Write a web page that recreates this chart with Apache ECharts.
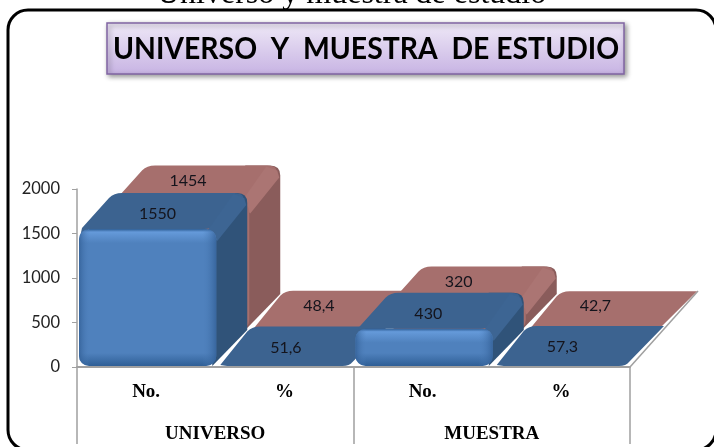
<!DOCTYPE html>
<html>
<head>
<meta charset="utf-8">
<style>
html, body { margin: 0; padding: 0; background: #fff; overflow: hidden; }
#main { width: 714px; height: 447px; }
</style>
<script src="https://cdn.jsdelivr.net/npm/echarts@6/dist/echarts.min.js"></script>
</head>
<body>
<div id="main"></div>
<script>
const categories = ['No.', '%', 'No.', '%'];
const groups = ['UNIVERSO', 'MUESTRA'];
const blueValues = [1550, 51.6, 430, 57.3];
const redValues = [1454, 48.4, 320, 42.7];
const blueLabels = ['1550', '51,6', '430', '57,3'];
const redLabels = ['1454', '48,4', '320', '42,7'];

const chart = echarts.init(document.getElementById('main'));

// depth of one 3D row, in pixels
const rowX = 33;
const depthY = 36;

function slab(params, api, row, palette, labels) {
    const idx = api.value(0);
    const val = api.value(1);
    const base = api.coord([idx, 0]);
    const top = api.coord([idx, val]);
    const w = api.size([1, 0])[0] - 1;
    const offX = row * rowX;
    const offY = -row * depthY;
    const x0 = base[0] - w / 2 + 1.5 + offX;
    const x1 = x0 + w;
    const y0 = base[1] + offY - 1;
    const y1 = top[1] + offY;
    const h = y0 - y1;
    const tall = h > 10;
    const leftX = 35;
    const rightX = tall ? 31 : 33;
    const r = 10;
    const backY = y1 - depthY;
    const frontY = tall ? y1 : y0;
    const children = [];
    if (tall) {
        // right side
        children.push({
            type: 'path',
            shape: {
                pathData: 'M' + (x1 - 4) + ' ' + y0 +
                    'L' + (x1 + rightX) + ' ' + (y0 - depthY) +
                    'L' + (x1 + rightX) + ' ' + (backY + r) +
                    'Q' + (x1 + rightX) + ' ' + backY + ' ' + (x1 + rightX - r) + ' ' + backY +
                    'L' + (x1 - 4) + ' ' + backY +
                    'L' + (x1 - 4) + ' ' + (y1 + 4) + 'Z'
            },
            style: { fill: palette.side }
        });
    }
    // top face
    children.push({
        type: 'path',
        shape: {
            pathData: (tall ? 'M' + (x0 + 1) + ' ' + (frontY + 8) + 'L' : 'M') + (x0 + 3) + ' ' + (frontY - 1) +
                'L' + (x0 + leftX - 5) + ' ' + (backY + 5) +
                'Q' + (x0 + leftX) + ' ' + backY + ' ' + (x0 + leftX + 8) + ' ' + backY +
                (tall
                    ? 'L' + (x1 + rightX - r - 3) + ' ' + backY +
                      'Q' + (x1 + rightX - 3) + ' ' + backY + ' ' + (x1 + rightX - 4) + ' ' + (backY + 6)
                    : 'L' + (x1 + rightX) + ' ' + backY) +
                'L' + (x1 - 2) + ' ' + (frontY - 4) +
                'Q' + (x1 - 5) + ' ' + frontY + ' ' + (x1 - 12) + ' ' + frontY +
                'L' + (x0 + 10) + ' ' + frontY + 'Z'
        },
        style: { fill: palette.top }
    });
    if (tall) {
        // bevel running back from the front top corner
        children.push({
            type: 'polygon',
            shape: { points: [
                [x1 - 9, y1 + 2], [x1 + rightX - 14, backY + 1],
                [x1 + rightX - 3, backY + 5], [x1 + rightX - 1, backY + 12], [x1 + 1, y1 + 12]
            ] },
            style: { fill: palette.rim }
        });
        // front face
        children.push({
            type: 'rect',
            shape: { x: x0, y: y1, width: w, height: h, r: r },
            style: {
                fill: new echarts.graphic.LinearGradient(0, y1, 0, y0, [
                    { offset: 0, color: palette.frontDark },
                    { offset: 3 / h, color: palette.frontLight },
                    { offset: 14 / h, color: palette.front },
                    { offset: Math.max(14 / h, 1 - 13 / h), color: palette.front },
                    { offset: 1, color: palette.frontDark }
                ], true)
            }
        });
        children.push({
            type: 'rect',
            shape: { x: x0, y: y1, width: w, height: h, r: r },
            style: {
                fill: new echarts.graphic.LinearGradient(x0, 0, x1, 0, [
                    { offset: 0, color: palette.edge },
                    { offset: 11 / w, color: palette.noEdge },
                    { offset: 1 - 14 / w, color: palette.noEdge },
                    { offset: 1, color: palette.edge }
                ], true)
            }
        });
    }
    // value sits on the top face
    children.push({
        type: 'text',
        style: {
            text: labels[idx],
            x: (x0 + x1) / 2 + (tall ? h / 138 * 8 + (row ? 0 : 2) : 0),
            y: y1 - (row ? 21 : 15),
            fill: '#14141c',
            font: '16px "Lato", sans-serif',
            align: 'center',
            verticalAlign: 'middle'
        }
    });
    return { type: 'group', children: children };
}

const bluePalette = {
    top: '#3c6390', side: '#305379', rim: '#3d6593',
    front: '#4f81bd', frontLight: '#659ada', frontDark: '#2f5f96',
    edge: 'rgba(50,95,150,0.8)', noEdge: 'rgba(79,129,189,0)'
};
const redPalette = {
    top: '#a66f6d', side: '#8a5c5b', rim: '#ab7573',
    front: '#a66f6d', frontLight: '#a66f6d', frontDark: '#a66f6d',
    edge: 'rgba(166,111,109,0)', noEdge: 'rgba(166,111,109,0)'
};

function seriesData(values) {
    return values.map((v, i) => [i, v]);
}

// edge of the chart floor going back from the end of the axis
function floorEdge(params, api) {
    const p = api.coord([api.value(0), 0]);
    const x = p[0] + api.size([1, 0])[0] / 2;
    return {
        type: 'line',
        shape: { x1: x, y1: p[1], x2: x + 2 * rowX + 2, y2: p[1] - 2 * depthY - 4 },
        style: { stroke: '#a0a0a0', lineWidth: 1.5 }
    };
}

const option = {
    animation: false,
    backgroundColor: '#ffffff',
    textStyle: { fontFamily: 'Lato' },
    grid: { left: 77, top: 189, width: 553, height: 178 },
    xAxis: [
        {
            type: 'category',
            data: categories,
            position: 'bottom',
            axisLine: { lineStyle: { color: '#a0a0a0', width: 2 } },
            axisTick: { show: false },
            axisLabel: {
                margin: 16,
                color: '#000',
                fontFamily: 'Liberation Serif',
                fontWeight: 'bold',
                fontSize: 19
            }
        },
        {
            type: 'category',
            data: groups,
            position: 'bottom',
            axisLine: { show: false },
            axisTick: { show: true, length: 77, lineStyle: { color: '#a0a0a0', width: 1.5 } },
            axisLabel: {
                margin: 58,
                color: '#000',
                fontFamily: 'Liberation Serif',
                fontWeight: 'bold',
                fontSize: 19
            }
        }
    ],
    yAxis: {
        type: 'value',
        min: 0,
        max: 2000,
        interval: 500,
        axisLine: { show: true, lineStyle: { color: '#a0a0a0', width: 1.5 } },
        axisTick: { show: true, length: 5, lineStyle: { color: '#a0a0a0' } },
        splitLine: { show: false },
        axisLabel: { color: '#222', fontFamily: 'Lato', fontSize: 16.5, margin: 17, formatter: (v) => String(v) }
    },
    graphic: [
        {
            type: 'text',
            x: 157,
            y: -21,
            style: { text: 'Universo y muestra de estudio', fill: '#000', font: '32px "Liberation Serif"' }
        },
        {
            type: 'rect',
            shape: { x: 8, y: 10, width: 708, height: 440, r: 20 },
            style: { fill: 'none', stroke: '#000', lineWidth: 3 }
        },
        {
            type: 'rect',
            shape: { x: 107, y: 23, width: 517, height: 51 },
            style: {
                fill: new echarts.graphic.LinearGradient(0, 0, 0, 1, [
                    { offset: 0, color: '#efe9f7' },
                    { offset: 1, color: '#c7b3e3' }
                ]),
                stroke: '#8064a2',
                lineWidth: 1.5,
                shadowColor: 'rgba(0,0,0,0.4)',
                shadowBlur: 5,
                shadowOffsetX: 2,
                shadowOffsetY: 2
            }
        },
        {
            type: 'text',
            x: 113,
            y: 33,
            scaleX: 0.915,
            style: { text: 'UNIVERSO  Y  MUESTRA  DE ESTUDIO', fill: '#000', font: 'bold 31px "Lato"' }
        }
    ],
    series: [
        {
            type: 'custom',
            z: 1,
            data: [[3, 0]],
            encode: { x: 0, y: 1 },
            silent: true,
            renderItem: floorEdge
        },
        {
            type: 'custom',
            z: 2,
            data: seriesData(redValues),
            encode: { x: 0, y: 1 },
            renderItem: (params, api) => slab(params, api, 1, redPalette, redLabels)
        },
        {
            type: 'custom',
            z: 3,
            data: seriesData(blueValues),
            encode: { x: 0, y: 1 },
            renderItem: (params, api) => slab(params, api, 0, bluePalette, blueLabels)
        }
    ]
};

chart.setOption(option);
</script>
</body>
</html>
